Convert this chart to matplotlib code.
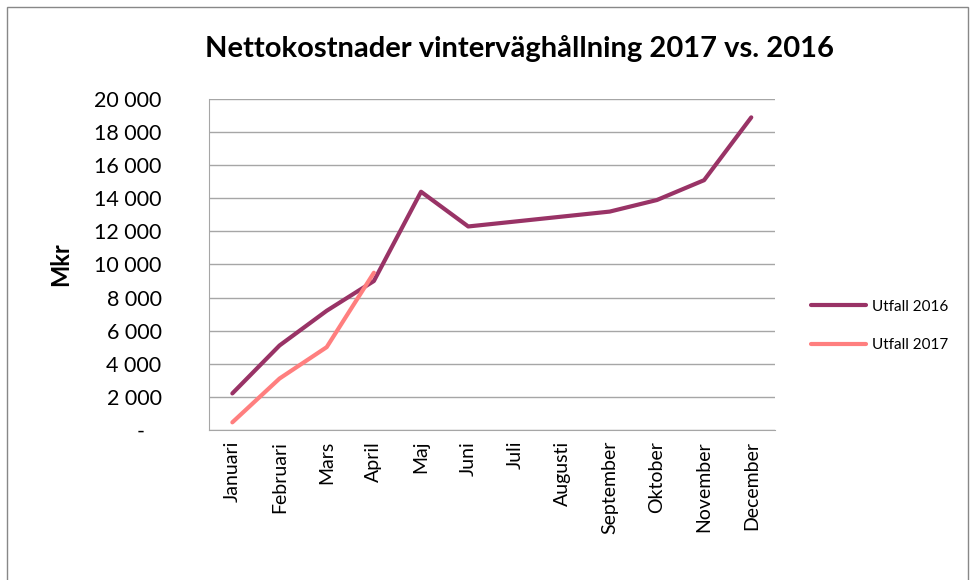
import matplotlib.pyplot as plt
from matplotlib.patches import Rectangle
from matplotlib.ticker import FuncFormatter

plt.rcParams['font.family'] = ['Lato', 'DejaVu Sans']

# data (Mkr)
months = ['Januari', 'Februari', 'Mars', 'April', 'Maj', 'Juni', 'Juli',
          'Augusti', 'September', 'Oktober', 'November', 'December']
utfall_2016 = [2200, 5100, 7200, 9000, 14400, 12300, 12600, 12900, 13200,
               13900, 15100, 18900]
utfall_2017 = [450, 3100, 5000, 9500]

fig = plt.figure(figsize=(9.71, 5.80), dpi=100)
fig.patches.append(Rectangle((7 / 971, -0.1), 961 / 971, 1.1 - 7 / 580,
                             transform=fig.transFigure, fill=False,
                             edgecolor='#888888', linewidth=1))

ax = fig.add_axes([0.215, 0.259, 0.583, 0.570])
x = list(range(len(months)))
ax.plot(x, utfall_2016, color='#993366', linewidth=3, label='Utfall 2016',
        solid_capstyle='round', solid_joinstyle='round')
ax.plot(x[:len(utfall_2017)], utfall_2017, color='#FF7F7F', linewidth=3,
        label='Utfall 2017', solid_capstyle='round', solid_joinstyle='round')

ax.set_xlim(-0.5, 11.5)
ax.set_ylim(0, 20000)
ax.set_yticks(range(0, 20001, 2000))


def fmt(v, pos):
    if v == 0:
        return '-   '
    return f'{int(v):,}'.replace(',', ' ')


ax.yaxis.set_major_formatter(FuncFormatter(fmt))
ax.set_xticks(x)
ax.set_xticklabels(months, rotation=90, fontsize=14)
ax.tick_params(axis='y', length=0, pad=34, labelsize=15.5)
ax.tick_params(axis='x', length=0, pad=8)
ax.grid(axis='y', color='#A6A6A6', linewidth=1)
ax.set_axisbelow(True)
for s in ['top', 'right']:
    ax.spines[s].set_visible(False)
for s in ['left', 'bottom']:
    ax.spines[s].set_color('#A6A6A6')
ax.set_ylabel('Mkr', fontsize=17, fontweight='bold', labelpad=16)

ax.legend(loc='center left', bbox_to_anchor=(1.04, 0.314), frameon=False,
          fontsize=11, handlelength=3.6, labelspacing=1.6, handletextpad=0.4)

fig.suptitle('Nettokostnader vinterväghållning 2017 vs. 2016', x=0.535,
             y=0.94, fontsize=21, fontweight='bold')

fig.savefig('out.png', dpi=100)
